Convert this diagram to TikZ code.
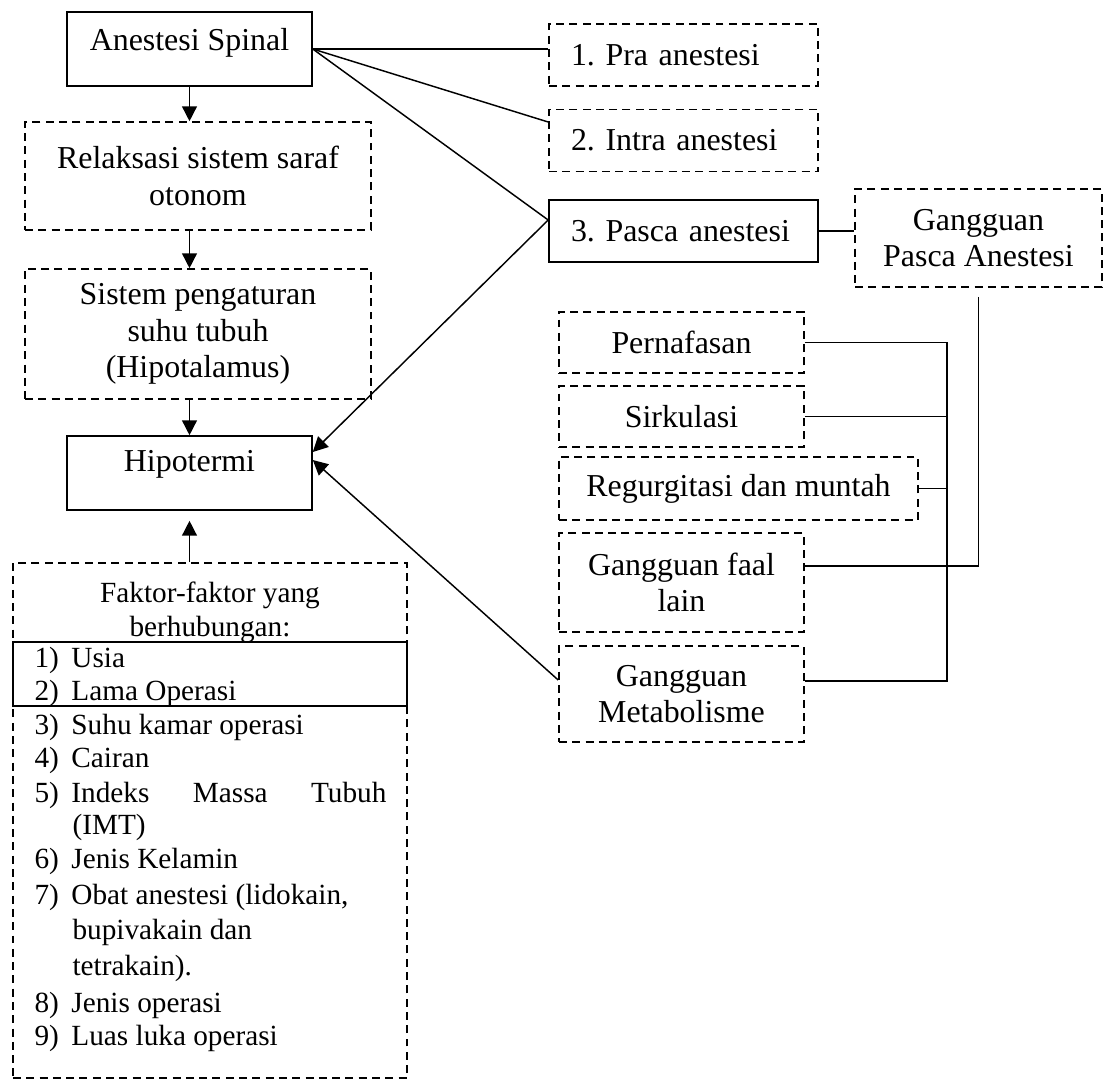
\documentclass[tikz,border=0pt]{standalone}
\usepackage{fontspec}
\setmainfont{Liberation Serif}
\usetikzlibrary{arrows.meta}
\frenchspacing
\newlength{\pix}
\setlength{\pix}{0.376pt}
\newcommand{\nomor}[1]{\makebox[13.9pt][l]{#1)}}

\begin{document}
\begin{tikzpicture}[x=0.376pt, y=-0.376pt,
    font=\fontsize{12pt}{13.8pt}\selectfont,
    kotak/.style={draw=black, line width=0.6pt, align=center, inner sep=0pt},
    putus/.style={kotak, dash pattern=on 3pt off 2pt},
    tahap/.style={minimum width=269\pix, minimum height=62\pix, align=left, text width=225\pix},
    kecil/.style={font=\fontsize{11pt}{12.9pt}\selectfont, inner sep=0pt},
    baris/.style={kecil, anchor=base west},
    panah/.style={draw=black, line width=0.55pt, -{Triangle[length=5.6pt,width=5.6pt]}},
    garis/.style={draw=black, line width=0.55pt}]
        \useasboundingbox (0,0) rectangle (1103,1079);
        % kolom kiri
        \node [kotak, minimum width=245\pix, minimum height=74\pix, text depth=7.2pt] (spinal) at (189.5,49) {Anestesi Spinal};
        \node [putus, minimum width=346\pix, minimum height=108\pix] (relaks) at (198,176) {Relaksasi sistem saraf\\otonom};
        \node [putus, minimum width=346\pix, minimum height=130\pix] (suhu) at (198,334) {Sistem pengaturan\\suhu tubuh\\(Hipotalamus)};
        \node [kotak, minimum width=245\pix, minimum height=74\pix, text depth=9pt] (hipo) at (189.5,473) {Hipotermi};
        \node [putus, minimum width=394\pix, minimum height=515\pix] (faktor) at (210,820.5) {};
        \node [kotak, minimum width=394\pix, minimum height=64\pix] (terpilih) at (210,674) {};
        \node [kecil, align=center] (judul) at (210,612) {Faktor-faktor yang\\berhubungan:};
        % daftar faktor
        \node [baris] (f1) at (34,667) {\nomor{1}Usia};
        \node [baris] (f2) at (34,700) {\nomor{2}Lama Operasi};
        \node [baris] (f3) at (34,734) {\nomor{3}Suhu kamar operasi};
        \node [baris] (f4) at (34,767) {\nomor{4}Cairan};
        \node [baris] (f5) at (34,802) {\nomor{5}\makebox[118.4pt][s]{Indeks Massa Tubuh}};
        \node [baris] (f5b) at (72,834) {(IMT)};
        \node [baris] (f6) at (34,868) {\nomor{6}Jenis Kelamin};
        \node [baris] (f7) at (34,904) {\nomor{7}Obat anestesi (lidokain,};
        \node [baris] (f7b) at (72,939) {bupivakain dan};
        \node [baris] (f7c) at (72,975) {tetrakain).};
        \node [baris] (f8) at (34,1012) {\nomor{8}Jenis operasi};
        \node [baris] (f9) at (34,1045) {\nomor{9}Luas luka operasi};
        % kolom kanan
        \node [putus, tahap] (pra) at (683.5,55) {1. Pra anestesi};
        \node [putus, tahap] (intra) at (683.5,140.5) {2. Intra anestesi};
        \node [kotak, tahap] (pasca) at (683.5,231) {3. Pasca anestesi};
        \node [putus, minimum width=247\pix, minimum height=98\pix] (gpa) at (978.5,238) {Gangguan\\Pasca Anestesi};
        \node [putus, minimum width=245\pix, minimum height=61\pix] (nafas) at (681.5,342.5) {Pernafasan};
        \node [putus, minimum width=245\pix, minimum height=61\pix] (sirk) at (681.5,416.5) {Sirkulasi};
        \node [putus, minimum width=359\pix, minimum height=63\pix] (regur) at (738.5,488.5) {Regurgitasi dan muntah};
        \node [putus, minimum width=245\pix, minimum height=99\pix] (faal) at (681.5,582.5) {Gangguan faal\\lain};
        \node [putus, minimum width=245\pix, minimum height=96\pix] (meta) at (681.5,694) {Gangguan\\Metabolisme};
        % titik bantu
        \coordinate (rel) at (947,340);
        \coordinate (faalK) at ([yshift=16.5\pix]faal.east);
        \coordinate (metaK) at ([yshift=13\pix]meta.east);
        \coordinate (pascaK) at ([yshift=11\pix]pasca.west);
        % panah alur
        \draw [panah] (spinal.south) -- (spinal.south |- relaks.north);
        \draw [panah] (relaks.south -| spinal.south) -- (suhu.north -| spinal.south);
        \draw [panah] (suhu.south -| hipo.north) -- (hipo.north);
        \draw [panah, shorten >=10\pix] (faktor.north -| hipo.south) -- (hipo.south);
        \draw [panah] (pascaK) -- ([yshift=21\pix]hipo.east);
        \draw [panah] ([yshift=14\pix]meta.west) -- ([yshift=13\pix]hipo.east);
        % garis penghubung
        \draw [garis] (spinal.east) -- (spinal.east -| pra.west);
        \draw [garis] (spinal.east) -- ([yshift=18.5\pix]intra.west);
        \draw [garis] (spinal.east) -- (pascaK);
        \draw [garis] (pasca.east) -- (pasca.east -| gpa.west);
        \draw [garis] ([yshift=-9\pix]gpa.south) |- (faalK);
        \draw [garis] (nafas.east) -- (nafas.east -| rel) -- (metaK -| rel) -- (metaK);
        \draw [garis] (sirk.east) -- (sirk.east -| rel);
        \draw [garis] (regur.east) -- (regur.east -| rel);
\end{tikzpicture}
\end{document}
